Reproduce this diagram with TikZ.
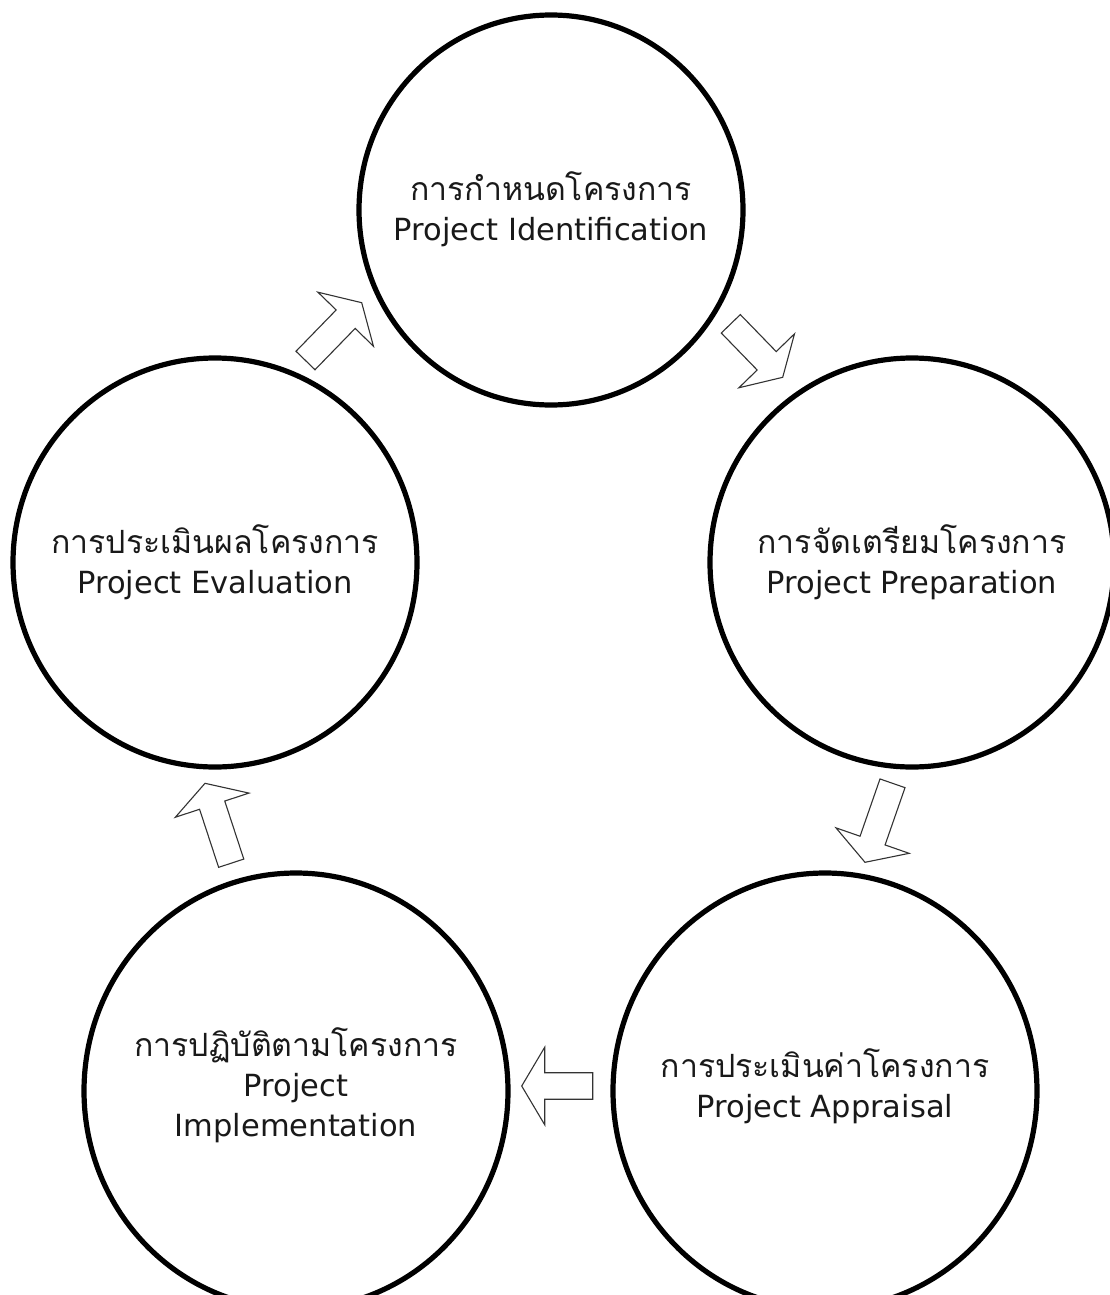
\documentclass[tikz,border=0pt]{standalone}
\usepackage{fontspec}
\setmainfont{DejaVu Sans}
\newfontfamily\thaifont[Script=Thai,Scale=1.05]{Loma}
\usetikzlibrary{calc,shapes.geometric}
\newcommand{\blockarrow}[2]{%
  \draw[barrow] ($(#1)!13.25pt!90:(#2)$)
    -- ($(#2)!23pt!(#1)!13.25pt!-90:(#1)$)
    -- ($(#2)!23pt!(#1)!38.75pt!-90:(#1)$)
    -- (#2)
    -- ($(#2)!23pt!(#1)!38.75pt!90:(#1)$)
    -- ($(#2)!23pt!(#1)!13.25pt!90:(#1)$)
    -- ($(#1)!13.25pt!-90:(#2)$) -- cycle;}
\begin{document}
\begin{tikzpicture}[x=1pt,y=-1pt,
  stage/.style={ellipse, draw=black, line width=5.2pt, fill=white, inner sep=0pt},
  stagetext/.style={align=center, inner sep=0pt, text=black!90,
    font=\fontsize{30.5}{40}\selectfont},
  barrow/.style={draw=black!80, line width=1.1pt, fill=white, line join=miter}]
\useasboundingbox (0,0) rectangle (1110,1295);
\fill[white] (0,0) rectangle (1110,1295);
% stages
\node[stage, minimum width=384pt, minimum height=390pt] (ident) at (551,210) {};
\node[stage, minimum width=404pt, minimum height=409pt] (prep) at (912,562.5) {};
\node[stage, minimum width=424pt, minimum height=436pt] (appr) at (825,1091) {};
\node[stage, minimum width=424pt, minimum height=436pt] (impl) at (296,1091) {};
\node[stage, minimum width=404pt, minimum height=409pt] (eval) at (215,562.5) {};
% stage labels
\node[stagetext] (ident-t) at ($(ident)+(0,-1)$)
  {{\thaifont การกำหนดโครงการ}\\Project Identification};
\node[stagetext] (prep-t) at (prep)
  {{\thaifont การจัดเตรียมโครงการ}\\Project Preparation};
\node[stagetext] (appr-t) at ($(appr)+(0,-5)$)
  {{\thaifont การประเมินค่าโครงการ}\\Project Appraisal};
\node[stagetext] (impl-t) at ($(impl)+(0,-6)$)
  {{\thaifont การปฏิบัติตามโครงการ}\\Project\\Implementation};
\node[stagetext] (eval-t) at (eval)
  {{\thaifont การประเมินผลโครงการ}\\Project Evaluation};
% arrow ends
\coordinate (t1) at (305.5,360.5);  \coordinate (p1) at (361.7,302.7);
\coordinate (t2) at (730.8,323.8);  \coordinate (p2) at (782.7,377.3);
\coordinate (t3) at (892.5,783.3);  \coordinate (p3) at (865,862.3);
\coordinate (t4) at (592.7,1086);   \coordinate (p4) at (521.7,1086);
\coordinate (t5) at (231.2,863.2);  \coordinate (p5) at (205,783.3);
\blockarrow{t1}{p1}
\blockarrow{t2}{p2}
\blockarrow{t3}{p3}
\blockarrow{t4}{p4}
\blockarrow{t5}{p5}
\end{tikzpicture}
\end{document}
